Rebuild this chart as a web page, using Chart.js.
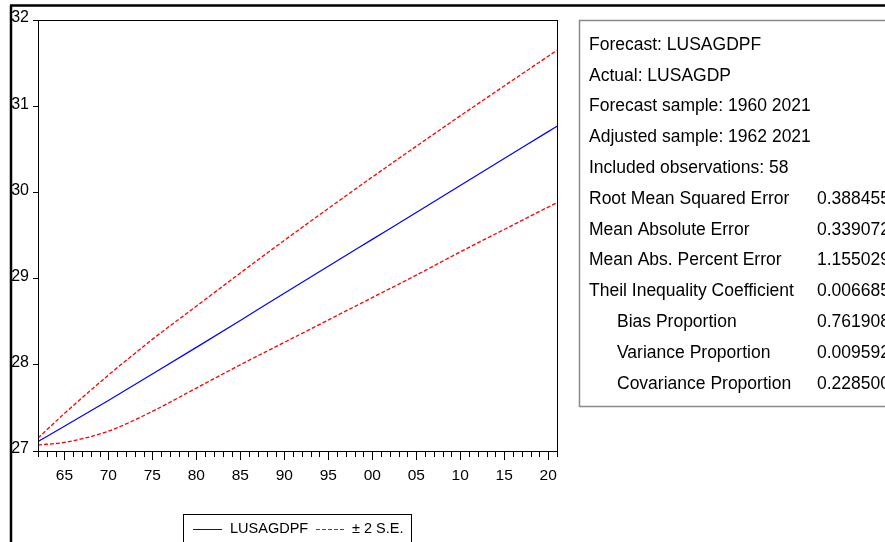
<!DOCTYPE html>
<html>
<head>
<meta charset="utf-8">
<script src="https://cdn.jsdelivr.net/npm/chart.js@4/dist/chart.umd.min.js"></script>
<style>
  html, body { margin: 0; padding: 0; background: #fff; }
  #wrap { width: 885px; height: 542px; position: relative; }
</style>
</head>
<body>
<div id="wrap"><canvas id="fc" width="885" height="542"></canvas></div>
<script>
// values
const years = [1962, 1965, 1970, 1975, 1980, 1985, 1990, 1995, 2000, 2005, 2010, 2015, 2020, 2021];
const forecast = [27.11, 27.287, 27.587, 27.892, 28.202, 28.515, 28.83, 29.143, 29.455, 29.767, 30.08, 30.392, 30.705, 30.767];
const upperBand = [27.15, 27.435, 27.88, 28.295, 28.68, 29.065, 29.443, 29.813, 30.178, 30.535, 30.888, 31.235, 31.58, 31.649];
const lowerBand = [27.07, 27.10, 27.23, 27.46, 27.73, 28.00, 28.26, 28.52, 28.78, 29.04, 29.31, 29.57, 29.83, 29.88];

const xTickYears = [1965, 1970, 1975, 1980, 1985, 1990, 1995, 2000, 2005, 2010, 2015, 2020];
const xTickLabels = ['65', '70', '75', '80', '85', '90', '95', '00', '05', '10', '15', '20'];

const statLabels = [
  'Forecast: LUSAGDPF',
  'Actual: LUSAGDP',
  'Forecast sample: 1960 2021',
  'Adjusted sample: 1962 2021',
  'Included observations: 58',
  'Root Mean Squared Error',
  'Mean Absolute Error',
  'Mean Abs. Percent Error',
  'Theil Inequality Coefficient',
  '   Bias Proportion',
  '   Variance Proportion',
  '   Covariance Proportion'
];
const statValues = ['', '', '', '', '', '0.388455', '0.339072', '1.155029', '0.006685', '0.761908', '0.009592', '0.228500'];

const FONT = '"Liberation Sans", Arial, sans-serif';

const pts = (vals) => vals.map((v, i) => ({ x: years[i], y: v }));

// frame, minor ticks, stats box, legend
const extras = {
  id: 'extras',
  beforeDraw(chart) {
    const c = chart.ctx;
    c.save();
    c.fillStyle = '#fff';
    c.fillRect(0, 0, chart.width, chart.height);
    c.restore();
  },
  afterDraw(chart) {
    const c = chart.ctx;
    const a = chart.chartArea;
    const xs = chart.scales.x;
    c.save();

    // plot frame
    c.strokeStyle = '#000';
    c.lineWidth = 1;
    c.strokeRect(a.left + 0.5, a.top + 0.5, a.right - a.left, a.bottom - a.top);

    // year ticks below the axis
    for (let yr = 1962; yr <= 2021; yr++) {
      const px = Math.round(xs.getPixelForValue(yr)) + 0.5;
      const len = yr % 5 === 0 ? 9 : 6;
      c.beginPath();
      c.moveTo(px, a.bottom);
      c.lineTo(px, a.bottom + len);
      c.stroke();
    }

    // outer heavy border (top and left)
    c.lineWidth = 2.5;
    c.beginPath();
    c.moveTo(10, 5.5);
    c.lineTo(885, 5.5);
    c.moveTo(11, 5.5);
    c.lineTo(11, 542);
    c.stroke();

    // stats box
    c.strokeStyle = '#8a8a8a';
    c.lineWidth = 1.5;
    c.strokeRect(579.5, 20.5, 330, 386);
    c.fillStyle = '#000';
    c.font = '17.5px ' + FONT;
    c.textBaseline = 'middle';
    c.textAlign = 'left';
    statLabels.forEach((t, i) => {
      const y = 45 + i * 30.8;
      const indent = t.startsWith('   ') ? 28 : 0;
      c.fillText(t.trim(), 589 + indent, y);
      if (statValues[i]) c.fillText(statValues[i], 817, y);
    });

    // legend
    const ds = chart.data.datasets;
    c.strokeStyle = '#000';
    c.lineWidth = 1;
    c.strokeRect(183.5, 514.5, 228, 40);
    c.font = '14.5px ' + FONT;
    c.strokeStyle = ds[0].borderColor;
    c.beginPath();
    c.moveTo(193, 529.5);
    c.lineTo(222, 529.5);
    c.stroke();
    c.fillText(ds[0].label, 230, 529);
    c.strokeStyle = ds[1].borderColor;
    c.setLineDash([4, 2]);
    c.beginPath();
    c.moveTo(316, 529.5);
    c.lineTo(344, 529.5);
    c.stroke();
    c.setLineDash([]);
    c.fillText(ds[1].label, 352, 529);

    c.restore();
  }
};

new Chart(document.getElementById('fc'), {
  type: 'line',
  plugins: [extras],
  data: {
    datasets: [
      {
        label: 'LUSAGDPF',
        data: pts(forecast),
        borderColor: '#0000ff',
        borderWidth: 1.2,
        pointRadius: 0,
        cubicInterpolationMode: 'monotone'
      },
      {
        label: '\u00b1 2 S.E.',
        data: pts(upperBand),
        borderColor: '#ff0000',
        borderWidth: 1.3,
        borderDash: [4, 2],
        pointRadius: 0,
        cubicInterpolationMode: 'monotone'
      },
      {
        label: 'lower',
        data: pts(lowerBand),
        borderColor: '#ff0000',
        borderWidth: 1.3,
        borderDash: [4, 2],
        pointRadius: 0,
        cubicInterpolationMode: 'monotone'
      }
    ]
  },
  options: {
    responsive: false,
    animation: false,
    layout: { padding: { top: 20, right: 328, left: 0, bottom: 0 } },
    plugins: { legend: { display: false }, tooltip: { enabled: false } },
    scales: {
      x: {
        type: 'linear',
        min: 1962,
        max: 2021,
        afterFit: (s) => { s.height = 91; },
        afterBuildTicks: (s) => { s.ticks = xTickYears.map((v) => ({ value: v })); },
        grid: { display: false, drawTicks: false },
        border: { display: true, color: '#000', width: 1 },
        ticks: {
          autoSkip: false,
          maxRotation: 0,
          minRotation: 0,
          padding: 15,
          color: '#000',
          font: { family: FONT, size: 15.5 },
          callback: (v) => xTickLabels[xTickYears.indexOf(v)]
        }
      },
      y: {
        min: 27,
        max: 32,
        afterFit: (s) => { s.width = 38; },
        grid: { drawOnChartArea: false, drawTicks: true, tickLength: 5, tickColor: '#000' },
        border: { display: true, color: '#000', width: 1 },
        ticks: {
          stepSize: 1,
          padding: 4,
          labelOffset: -2,
          color: '#000',
          font: { family: FONT, size: 16 }
        }
      }
    }
  }
});
</script>
</body>
</html>
